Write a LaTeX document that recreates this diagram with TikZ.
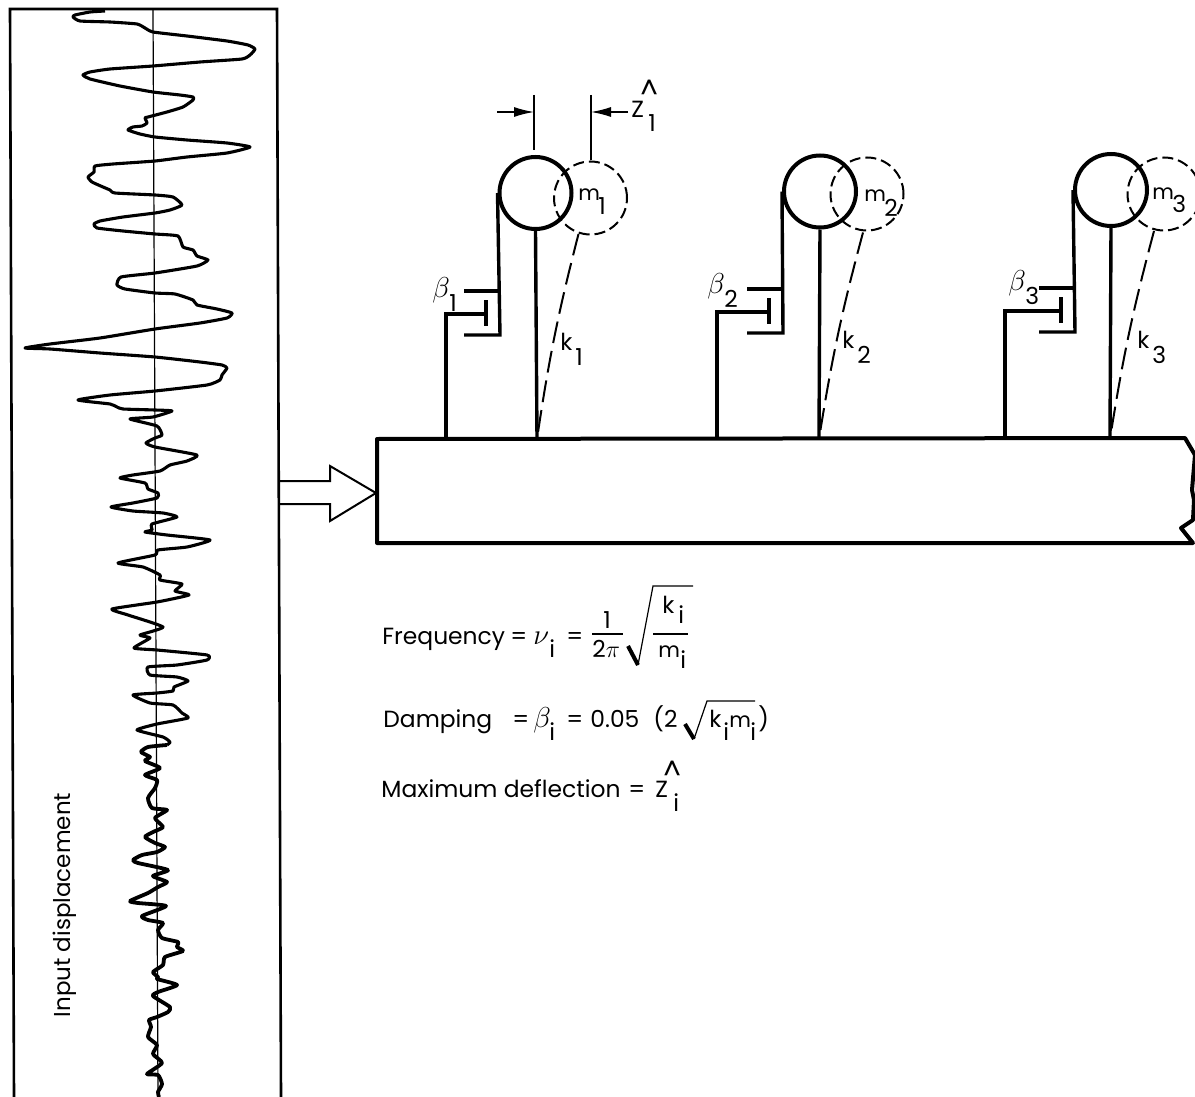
\documentclass[tikz,border=0pt]{standalone}
\usepackage{fontspec}
\setmainfont{Poppins}
\usetikzlibrary{arrows.meta}
\tikzset{
  wire/.style={line width=1.7pt},
  masssolid/.style={draw, circle, line width=2pt, minimum size=36pt, inner sep=0pt},
  massdash/.style={draw, circle, line width=1pt, dash pattern=on 5.5pt off 2.5pt, minimum size=36.5pt, inner sep=0pt},
  lbl/.style={inner sep=0pt, anchor=base west, font=\fontsize{11.7}{14}\selectfont},
  greek/.style={inner sep=0pt, anchor=base west, font=\fontsize{15}{16}\selectfont},
  smalllbl/.style={inner sep=0pt, anchor=base west, font=\fontsize{10.5}{12}\selectfont},
  hatlbl/.style={inner sep=0pt, anchor=base west, font=\fontsize{14}{14}\selectfont},
  thinline/.style={line width=.6pt},
  dimarrow/.style={line width=.7pt, -{Latex[length=10pt,width=5pt]}}
}
\begin{document}
\begin{tikzpicture}[x=.5pt, y=-.5pt]
  \useasboundingbox (0,0) rectangle (1195,1097);

  % Input record
  \coordinate (frameTL) at (10,9);
  \coordinate (frameTR) at (277,9);
  \coordinate (frameBL) at (14,1097);
  \coordinate (frameBR) at (281,1097);
  \draw[line width=1.3pt] (frameBL) -- (frameTL) -- (frameTR) -- (frameBR);
  \draw[line width=.6pt] (153,9) -- (158,1097);
  \draw[line width=1.55pt, line join=round] plot[smooth, tension=.3] coordinates {
    (105,11) (90,12) (75,15) (73,17) (80,21) (110,22) (137,24) (145,28) (153,32) (187,36)
    (227,41) (248,45) (255,49) (250,55) (242,59) (200,62) (153,66) (110,69) (90,72) (83,75)
    (90,79) (120,86) (153,92) (180,95) (193,97) (193,100) (183,107) (167,112) (148,117) (145,118)
    (147,123) (142,126) (133,127) (128,130) (140,134) (155,137) (187,140) (227,143) (250,147) (227,153)
    (187,157) (155,161) (113,164) (95,166) (94,172) (88,177) (92,182) (103,187) (110,190) (115,193)
    (155,195) (173,197) (182,205) (170,210) (155,213) (123,217) (100,221) (94,224) (97,228) (123,231)
    (155,234) (178,236) (183,247) (193,250) (197,256) (208,260) (197,266) (155,273) (121,277) (117,285)
    (125,289) (155,293) (175,294) (193,300) (197,305) (217,309) (232,313) (227,318) (200,323) (155,329)
    (100,338) (50,344) (25,348) (50,349) (100,353) (155,357) (200,362) (222,365) (227,368) (222,375)
    (220,380) (207,385) (155,391) (110,395) (78,400) (110,404) (117,407) (123,409) (155,410) (172,411)
    (153,417) (130,419) (157,426) (162,435) (155,438) (146,443) (155,447) (197,455) (187,461) (170,465)
    (160,471) (133,475) (120,478) (145,483) (148,489) (158,493) (157,498) (133,503) (111,507) (133,511)
    (163,513) (177,517) (152,524) (152,530) (145,532) (167,535) (210,540) (187,547) (158,550) (155,555)
    (118,563) (143,567) (160,575) (160,580) (182,584) (175,591) (189,595) (157,602) (112,609) (128,615)
    (163,627) (140,635) (150,638) (134,648) (157,650) (207,655) (207,660) (177,665) (148,667) (150,675)
    (177,677) (188,681) (174,687) (173,691) (157,693) (133,695) (150,703) (173,705) (182,713) (188,718)
    (157,724) (137,730) (163,737) (170,742) (167,745)};
  \draw[line width=1.9pt, line join=round] plot[smooth, tension=.35] coordinates {
    (167,745) (148,747) (141,752) (150,757) (145,761) (160,768) (145,775) (157,780) (155,788) (148,798)
    (152,808) (167,810) (155,818) (163,827) (153,832) (145,837) (155,843) (165,847) (157,852) (142,855)
    (133,860) (138,863) (168,870) (153,876) (167,882) (158,887) (148,893) (130,901) (138,903) (166,906)
    (142,916) (148,920) (163,923) (158,930) (162,938) (178,942) (177,947) (183,951) (165,957) (163,965)
    (153,972) (158,977) (157,979) (177,985) (158,992) (153,996) (170,1007) (168,1012) (157,1017) (149,1020)
    (151,1027) (148,1037) (157,1045) (153,1054) (162,1063) (147,1074) (158,1075) (162,1084) (158,1092) (159,1097)};
  \node[inner sep=0pt, rotate=90, font=\fontsize{11.5}{14}\selectfont] (inputlabel) at (65,905) {Input displacement};

  % Beam and hollow arrow
  \draw[line width=2pt, line join=round] (377,439) -- (1185,438) -- (1195,455) -- (1192,490) -- (1194,500) -- (1193,520)
    -- (1181,528) -- (1193,543) -- (377,543) -- cycle;
  \coordinate (arrowtip) at (376,493);
  \draw[line width=1pt, line join=miter] (279,481) -- (330,481) -- (330,466) -- (arrowtip) -- (330,521) -- (330,504) -- (279,504);

  % Oscillators
  \foreach \i/\cx/\cy/\dx/\dy/\dmp/\pst/\stm/\oy/\bx/\by/\kx/\ky/\mx/\my in {
      1/535.5/193/590.5/198/500/446/537/0/432/297/560/350/578/200,
      2/820/191.5/867/194/783/717/819/-2/707/293/842/348/864/202,
      3/1111/190/1164/194/1075/1005/1110/-3/1008/290/1137/348/1152/199} {
    \node[masssolid] (mass\i) at (\cx,\cy) {};
    \begin{scope}
      \clip (0,0) rectangle (1195,1097);
      \node[massdash] (ghost\i) at (\dx,\dy) {};
    \end{scope}
    \coordinate (base\i) at (\stm,439);
    \draw[wire] (mass\i.south) -- (base\i);
    \draw[line width=1pt, dash pattern=on 11pt off 4pt] (\cx+43,\cy+41) to[bend right=3] (base\i);
    \coordinate (dtop\i) at (\dmp,291+\oy);
    \coordinate (dbot\i) at (\dmp,335+\oy);
    \draw[wire] (mass\i.west) -- (dbot\i) -- ++(-36,0);
    \draw[wire] (dtop\i) -- ++(-36,0);
    \coordinate (piston\i) at (\dmp-14,314+\oy);
    \draw[wire] (\pst,439) -- (\pst,314+\oy) -- (piston\i);
    \draw[wire] (\dmp-14,300+\oy) -- (\dmp-14,326+\oy);
    \node[greek] (beta\i) at (\bx,\by) {$\beta$};
    \node[lbl] (bsub\i) at (\bx+17,\by+14) {\i};
    \node[lbl] (k\i) at (\kx,\ky) {k};
    \node[lbl] (ksub\i) at (\kx+15,\ky+15) {\i};
    \node[smalllbl] (mlabel\i) at (\mx,\my) {m};
    \node[lbl] (msub\i) at (\mx+20,\my+14) {\i};
  }

  % Deflection dimension
  \draw[thinline] (534,95) -- (534,150);
  \draw[thinline] (591,95) -- (591,160);
  \coordinate (dimA) at (534,112);
  \coordinate (dimB) at (591,112);
  \draw[dimarrow] (497,112) -- (dimA);
  \draw[dimarrow] (628,112) -- (dimB);
  \node[lbl] (zlabel) at (631,118) {Z};
  \node[lbl] (zsub) at (648,132) {1};
  \node[hatlbl] (zhat) at (640,100) {\textasciicircum};

  % Formulas
  \node[lbl] (freq) at (382,644) {Frequency};
  \node[lbl] (eqa) at (510,644) {=};
  \node[greek] (nu) at (533,644) {$\nu$};
  \node[lbl] (nusub) at (549,657) {i};
  \node[lbl] (eqb) at (566,644) {=};
  \node[lbl] (num) at (603,628) {1};
  \node[lbl] (den) at (592,657) {2$\pi$};
  \draw[thinline] (592,634) -- (623,634);
  \draw[line width=2pt] (628,646) -- (638,665);
  \draw[thinline] (638,665) -- (653,586) -- (693,586);
  \node[lbl] (kfrac) at (662,613) {k};
  \node[lbl] (kfsub) at (678,623) {i};
  \draw[thinline] (653,634) -- (688,634);
  \node[smalllbl] (mfrac) at (658,657) {m};
  \node[lbl] (mfsub) at (680,668) {i};

  \node[lbl] (damp) at (383,727) {Damping};
  \node[lbl] (eqc) at (512,727) {=};
  \node[greek] (beta) at (533,727) {$\beta$};
  \node[lbl] (betasub) at (549,740) {i};
  \node[lbl] (eqd) at (566,727) {=};
  \node[lbl] (val) at (590,727) {0.05};
  \node[lbl] (paren) at (653,727) {(2};
  \draw[line width=2pt] (685,724) -- (694,739);
  \draw[thinline] (694,739) -- (707,701) -- (755,701);
  \node[lbl] (kroot) at (709,727) {k};
  \node[lbl] (krsub) at (723,740) {i};
  \node[smalllbl] (mroot) at (729,727) {m};
  \node[lbl] (mrsub) at (750,740) {i};
  \node[lbl] (parenr) at (758,727) {)};

  \node[lbl] (maxd) at (381,797) {Maximum deflection};
  \node[lbl] (eqe) at (628,797) {=};
  \node[lbl] (zmax) at (655,797) {Z};
  \node[hatlbl] (zmaxhat) at (663,780) {\textasciicircum};
  \node[lbl] (zmaxsub) at (673,811) {i};
\end{tikzpicture}
\end{document}
